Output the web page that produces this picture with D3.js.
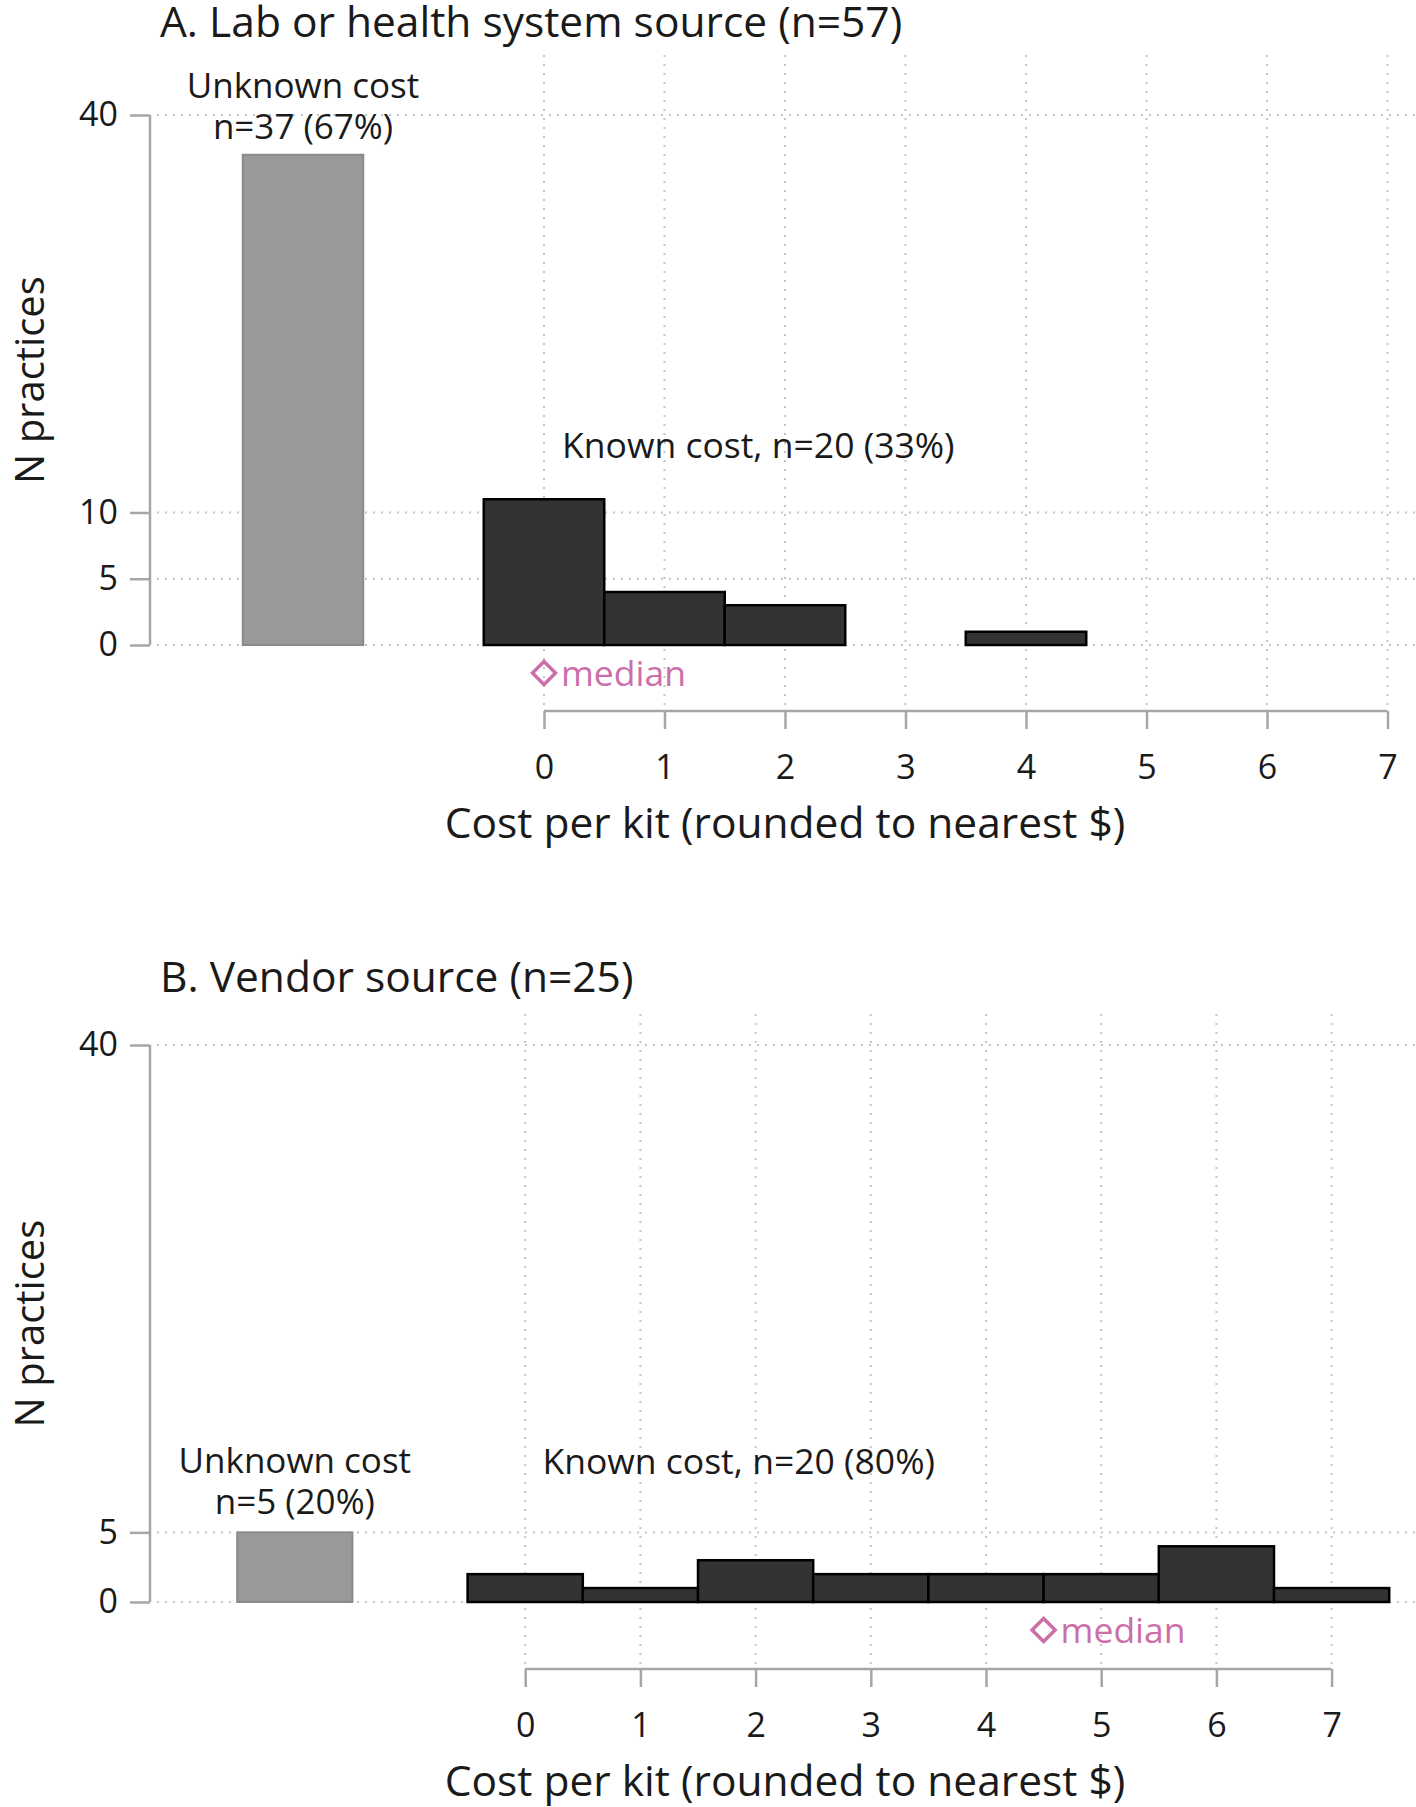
<!DOCTYPE html>
<html>
<head>
<meta charset="utf-8">
<script src="https://cdn.jsdelivr.net/npm/d3@7"></script>
<style>
  html, body { margin: 0; padding: 0; background: #fff; }
  svg { display: block; }
  text { font-family: "Open Sans", "Noto Sans", sans-serif; fill: #1a1a1a; }
</style>
</head>
<body>
<svg id="chart" width="1416" height="1807"></svg>
<script>
// ---- Data ----
const costTicks = [0, 1, 2, 3, 4, 5, 6, 7];

const panelATitle = "A. Lab or health system source (n=57)";
const binsA = [0, 1, 2, 3, 4];
const countsA = [11, 4, 3, 0, 1];
const unknownA = 37;
const unknownLabelA = ["Unknown cost", "n=37 (67%)"];
const knownLabelA = "Known cost, n=20 (33%)";
const medianA = 0;
const yTicksA = [0, 5, 10, 40];

const panelBTitle = "B. Vendor source (n=25)";
const binsB = [0, 1, 2, 3, 4, 5, 6, 7];
const countsB = [2, 1, 3, 2, 2, 2, 4, 1];
const unknownB = 5;
const unknownLabelB = ["Unknown cost", "n=5 (20%)"];
const knownLabelB = "Known cost, n=20 (80%)";
const medianB = 4.5;
const yTicksB = [0, 5, 40];

const unknownPos = -2;
const yMax = 40;
const xTitle = "Cost per kit (rounded to nearest $)";
const yTitle = "N practices";
const medianLabel = "median";

// ---- Drawing ----
const svg = d3.select("#chart");
const axisColor = "#a6a6a6";
const gridColor = "#c4c4c4";
const pink = "#cc6fa9";
const FONT = "Open Sans, Noto Sans, sans-serif";

function drawPanel(cfg) {
  const g = svg.append("g");
  const x = d3.scaleLinear().domain([0, 7]).range(cfg.xRange);
  const y = d3.scaleLinear().domain([0, yMax]).range(cfg.yRange);
  const step = x(1) - x(0);

  // Title
  g.append("text").attr("x", 160).attr("y", cfg.titleY)
    .attr("font-size", 42.5).text(cfg.title);

  // Horizontal grid
  g.selectAll(".hgrid").data(cfg.yTicks).join("line")
    .attr("x1", 157).attr("x2", 1416)
    .attr("y1", d => y(d)).attr("y2", d => y(d))
    .attr("stroke", gridColor).attr("stroke-width", 2)
    .attr("stroke-dasharray", "2,6");

  // Vertical grid
  g.selectAll(".vgrid").data(costTicks).join("line")
    .attr("x1", d => x(d)).attr("x2", d => x(d))
    .attr("y1", cfg.vgridTop).attr("y2", cfg.xAxisY - 4)
    .attr("stroke", gridColor).attr("stroke-width", 2)
    .attr("stroke-dasharray", "2,7");

  // Unknown bar
  g.append("rect")
    .attr("x", x(unknownPos - 0.5)).attr("width", step)
    .attr("y", y(cfg.unknown)).attr("height", y(0) - y(cfg.unknown))
    .attr("fill", "#999999").attr("stroke", "#8a8a8a").attr("stroke-width", 2);

  // Known bars
  const data = cfg.bins.map((b, i) => ({ b, c: cfg.counts[i] })).filter(d => d.c > 0);
  g.selectAll(".bar").data(data).join("rect")
    .attr("x", d => x(d.b - 0.5)).attr("width", step)
    .attr("y", d => y(d.c)).attr("height", d => y(0) - y(d.c))
    .attr("fill", "#333333").attr("stroke", "#000").attr("stroke-width", 2.5);

  // Y axis
  const yAxis = g.append("g").attr("transform", `translate(150,0)`)
    .call(d3.axisLeft(y).tickValues(cfg.yTicks).tickFormat(d3.format("d"))
      .tickSize(20).tickSizeOuter(0).tickPadding(12));
  yAxis.select(".domain").attr("stroke", axisColor).attr("stroke-width", 2.5)
    .attr("d", `M0,${y(0)}V${y(yMax)}`);
  yAxis.selectAll(".tick line").attr("stroke", axisColor).attr("stroke-width", 2.5);
  yAxis.selectAll(".tick text").attr("font-size", 34).attr("fill", "#1a1a1a")
    .attr("font-family", FONT);

  // X axis
  const xAxis = g.append("g").attr("transform", `translate(0,${cfg.xAxisY})`)
    .call(d3.axisBottom(x).tickValues(costTicks).tickFormat(d3.format("d"))
      .tickSize(18).tickSizeOuter(0).tickPadding(26));
  xAxis.select(".domain").attr("stroke", axisColor).attr("stroke-width", 2.5)
    .attr("d", `M${x(0)},0H${x(7)}`);
  xAxis.selectAll(".tick line").attr("stroke", axisColor).attr("stroke-width", 2.5);
  xAxis.selectAll(".tick text").attr("font-size", 34).attr("fill", "#1a1a1a")
    .attr("font-family", FONT);

  // X title
  g.append("text").attr("x", 785).attr("y", cfg.xAxisY + 127)
    .attr("text-anchor", "middle").attr("font-size", 42.5).text(xTitle);

  // Y title
  const yc = (y(0) + y(yMax)) / 2;
  g.append("text")
    .attr("transform", `translate(44,${yc}) rotate(-90)`)
    .attr("text-anchor", "middle").attr("font-size", 40).text(yTitle);

  // Unknown label
  const ul = g.append("text").attr("text-anchor", "middle").attr("font-size", 35);
  cfg.unknownLabel.forEach((t, i) => {
    ul.append("tspan").attr("x", x(unknownPos)).attr("y", cfg.unknownLabelY + i * 41).text(t);
  });

  // Known label
  g.append("text").attr("x", x(0.15)).attr("y", cfg.knownLabelY)
    .attr("font-size", 35.5).text(cfg.knownLabel);

  // Median marker
  const mx = x(cfg.median), my = y(0) + 28;
  const r = 11.5;
  g.append("path")
    .attr("d", `M${mx},${my - r}L${mx + r},${my}L${mx},${my + r}L${mx - r},${my}Z`)
    .attr("fill", "none").attr("stroke", pink).attr("stroke-width", 3.5);
  g.append("text").attr("x", mx + 17).attr("y", y(0) + 41)
    .attr("font-size", 35.5).style("fill", pink).text(medianLabel);
}

drawPanel({
  title: panelATitle, titleY: 37,
  xRange: [544, 1387.5], yRange: [645, 115],
  yTicks: yTicksA, bins: binsA, counts: countsA, unknown: unknownA,
  unknownLabel: unknownLabelA, unknownLabelY: 98,
  knownLabel: knownLabelA, knownLabelY: 458,
  median: medianA, xAxisY: 711, vgridTop: 55
});

drawPanel({
  title: panelBTitle, titleY: 992,
  xRange: [525.2, 1331.6], yRange: [1602, 1045],
  yTicks: yTicksB, bins: binsB, counts: countsB, unknown: unknownB,
  unknownLabel: unknownLabelB, unknownLabelY: 1473,
  knownLabel: knownLabelB, knownLabelY: 1474,
  median: medianB, xAxisY: 1669, vgridTop: 1014
});
</script>
</body>
</html>
